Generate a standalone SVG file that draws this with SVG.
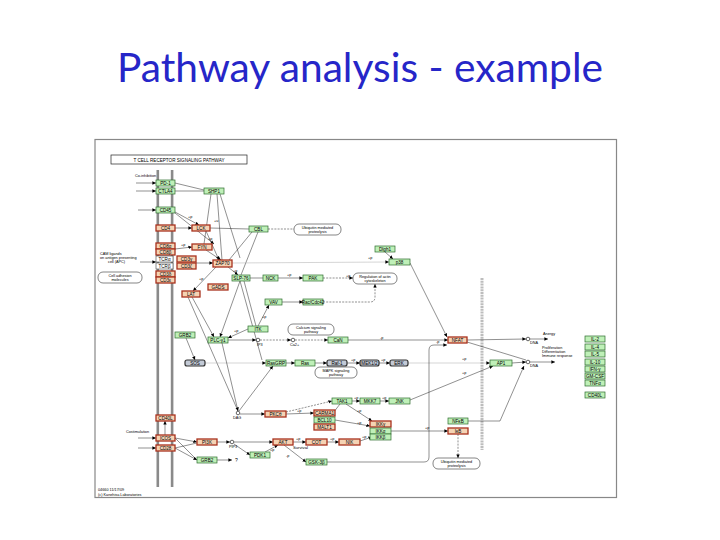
<svg xmlns="http://www.w3.org/2000/svg" width="720" height="540" viewBox="0 0 720 540">
<style>
.t{font-family:"Liberation Sans",Arial,sans-serif;font-size:4.6px;fill:#000;text-anchor:middle}
.s{font-family:"Liberation Sans",Arial,sans-serif;font-size:3.8px;fill:#000}
.g rect{fill:#bff0b8;stroke:#2d6b2d;stroke-width:0.7}
.r rect{fill:#f5d3b4;stroke:#a8321e;stroke-width:1.3}
.b rect{fill:#c3cad6;stroke:#333;stroke-width:1.2}
.w rect{fill:#fff;stroke:#444;stroke-width:0.6}
.box{fill:#fff;stroke:#333;stroke-width:0.6}
.c{fill:#fff;stroke:#000;stroke-width:0.6}
#edges path,#edges line,#edges polyline{fill:none;stroke:#222;stroke-width:0.5}
#edges .d{stroke-dasharray:2 1.2}
#edges .l{stroke:#aaa}
</style>
<defs>
<marker id="a" markerWidth="4" markerHeight="4" refX="3.6" refY="2" orient="auto" markerUnits="userSpaceOnUse"><path d="M0,0.3 L3.6,2 L0,3.7z" fill="#000"/></marker>
</defs>
<rect width="720" height="540" fill="#fff"/>
<text x="360" y="82" font-family="Lato,'Open Sans',sans-serif" font-size="40" fill="#2626c8" text-anchor="middle" textLength="486" lengthAdjust="spacingAndGlyphs">Pathway analysis - example</text>
<rect x="95" y="139.5" width="521.5" height="358" fill="none" stroke="#888" stroke-width="1.2"/>
<g id="title"><rect x="111" y="155" width="136" height="9" fill="#fff" stroke="#222" stroke-width="0.7"/><text x="179" y="161.5" class="t" font-size="5.2">T CELL RECEPTOR SIGNALING PATHWAY</text></g>
<g id="membrane" fill="#8a8a8a"><rect x="156.5" y="170" width="2.6" height="317"/><rect x="170.8" y="170" width="2.6" height="317"/></g>
<line id="nucmem" x1="482" y1="278" x2="482" y2="450" stroke="#bdbdbd" stroke-width="3" stroke-dasharray="2 0.8"/>
<g id="edges">
<line x1="136" y1="183" x2="156" y2="183" marker-end="url(#a)"/>
<line x1="136" y1="191" x2="156" y2="191" marker-end="url(#a)"/>
<line x1="138" y1="210" x2="156" y2="210" marker-end="url(#a)"/>
<line x1="175" y1="183" x2="204" y2="190"/>
<line x1="175" y1="191" x2="204" y2="191"/>
<line x1="211" y1="194" x2="204" y2="244"/>
<line x1="217" y1="194" x2="222" y2="260"/>
<line x1="220" y1="194" x2="240" y2="258"/>
<line x1="175" y1="212" x2="199" y2="225" marker-end="url(#a)"/>
<line x1="175" y1="213" x2="214" y2="244" marker-end="url(#a)"/>
<line x1="175" y1="228" x2="192" y2="228" marker-end="url(#a)"/>
<line x1="210" y1="228" x2="249" y2="229"/>
<line x1="206" y1="231" x2="219" y2="260" marker-end="url(#a)"/>
<line x1="175" y1="249" x2="192" y2="247" marker-end="url(#a)"/>
<line x1="206" y1="250" x2="221" y2="260" marker-end="url(#a)"/>
<line x1="252" y1="232" x2="229" y2="260"/>
<line x1="258" y1="232" x2="241" y2="275"/>
<line x1="268" y1="229" x2="294" y2="229" class="d"/>
<line x1="140" y1="262" x2="156" y2="262" marker-end="url(#a)"/>
<line x1="196" y1="263" x2="213" y2="263" marker-end="url(#a)"/>
<line x1="232" y1="263" x2="389" y2="262" class="l" marker-end="url(#a)"/>
<line x1="385" y1="252" x2="393" y2="259" marker-end="url(#a)"/>
<line x1="410" y1="263" x2="447" y2="337" marker-end="url(#a)"/>
<line x1="228" y1="267" x2="238" y2="275" marker-end="url(#a)"/>
<line x1="216" y1="267" x2="193" y2="291" marker-end="url(#a)"/>
<line x1="250" y1="278" x2="263" y2="278"/>
<line x1="278" y1="278" x2="303" y2="278" marker-end="url(#a)"/>
<line x1="323" y1="278" x2="353" y2="278" class="d" marker-end="url(#a)"/>
<line x1="244" y1="281" x2="256" y2="326"/>
<line x1="240" y1="281" x2="220" y2="337" marker-end="url(#a)"/>
<line x1="240" y1="281" x2="262" y2="360"/>
<line x1="258" y1="326" x2="269" y2="305" marker-end="url(#a)"/>
<line x1="282" y1="302" x2="303" y2="302" marker-end="url(#a)"/>
<path d="M323,302 H370 Q375,302 375,297 V284" class="d" marker-end="url(#a)"/>
<line x1="248" y1="329" x2="228" y2="338" marker-end="url(#a)"/>
<line x1="192" y1="297" x2="214" y2="337" marker-end="url(#a)"/>
<line x1="188" y1="297" x2="238" y2="411"/>
<line x1="186" y1="338" x2="195" y2="360" marker-end="url(#a)"/>
<line x1="228" y1="340" x2="256" y2="340" marker-end="url(#a)"/>
<line x1="260" y1="340" x2="291" y2="340" class="d" marker-end="url(#a)"/>
<line x1="295" y1="340" x2="328" y2="340" class="d" marker-end="url(#a)"/>
<line x1="348" y1="340" x2="448" y2="340" marker-end="url(#a)"/>
<line x1="467" y1="340" x2="526" y2="339" marker-end="url(#a)"/>
<line x1="467" y1="342" x2="526" y2="360"/>
<line x1="530" y1="339" x2="548" y2="339" marker-end="url(#a)"/>
<line x1="530" y1="362" x2="555" y2="362" marker-end="url(#a)"/>
<line x1="205" y1="363" x2="266" y2="363" class="l" marker-end="url(#a)"/>
<line x1="286" y1="363" x2="295" y2="363" marker-end="url(#a)"/>
<line x1="315" y1="363" x2="327" y2="363" marker-end="url(#a)"/>
<line x1="347" y1="363" x2="360" y2="363" marker-end="url(#a)"/>
<line x1="379" y1="363" x2="390" y2="363" marker-end="url(#a)"/>
<line x1="408" y1="363" x2="490" y2="363" class="l" marker-end="url(#a)"/>
<line x1="410" y1="400" x2="493" y2="366" marker-end="url(#a)"/>
<line x1="512" y1="363" x2="526" y2="362" marker-end="url(#a)"/>
<line x1="222" y1="343" x2="238" y2="411" marker-end="url(#a)"/>
<line x1="239" y1="411" x2="273" y2="366" marker-end="url(#a)"/>
<line x1="240" y1="414" x2="265" y2="414" marker-end="url(#a)"/>
<line x1="286" y1="414" x2="314" y2="413" marker-end="url(#a)"/>
<line x1="286" y1="412" x2="332" y2="401" class="d" marker-end="url(#a)"/>
<line x1="335" y1="420" x2="370" y2="426" marker-end="url(#a)"/>
<line x1="330" y1="417" x2="340" y2="404"/>
<line x1="346" y1="404" x2="372" y2="421" marker-end="url(#a)"/>
<line x1="352" y1="401" x2="360" y2="401" marker-end="url(#a)"/>
<line x1="380" y1="401" x2="389" y2="401" marker-end="url(#a)"/>
<line x1="165" y1="435" x2="165" y2="421" marker-end="url(#a)"/>
<line x1="138" y1="438" x2="156" y2="438" marker-end="url(#a)"/>
<line x1="138" y1="448" x2="156" y2="448" marker-end="url(#a)"/>
<line x1="175" y1="438" x2="197" y2="442" marker-end="url(#a)"/>
<line x1="175" y1="448" x2="197" y2="443"/>
<line x1="175" y1="438" x2="197" y2="460"/>
<line x1="175" y1="448" x2="197" y2="460" marker-end="url(#a)"/>
<line x1="217" y1="442" x2="230" y2="442" marker-end="url(#a)"/>
<line x1="234" y1="442" x2="273" y2="442" marker-end="url(#a)"/>
<line x1="234" y1="444" x2="250" y2="455" marker-end="url(#a)"/>
<line x1="265" y1="452" x2="278" y2="445" marker-end="url(#a)"/>
<line x1="293" y1="442" x2="306" y2="442" marker-end="url(#a)"/>
<line x1="327" y1="442" x2="339" y2="442" marker-end="url(#a)"/>
<line x1="360" y1="441" x2="372" y2="437" marker-end="url(#a)"/>
<line x1="284" y1="445" x2="306" y2="462" marker-end="url(#a)"/>
<line x1="217" y1="460" x2="232" y2="460" marker-end="url(#a)"/>
<line x1="391" y1="431" x2="448" y2="431" marker-end="url(#a)"/>
<line x1="458" y1="434" x2="458" y2="458" class="d" marker-end="url(#a)"/>
<polyline points="468,421 500,421 524,366" marker-end="url(#a)"/>
<path d="M327,462 H424 Q429,462 429,457 V350 Q429,345 434,345 H447" stroke="#999" marker-end="url(#a)"/>
</g>
<g id="plabels" class="s">
<text x="188" y="218">+p</text><text x="208" y="240">+p</text><text x="214" y="222">+u</text><text x="181" y="246">+p</text>
<text x="233" y="272">+p</text><text x="199" y="280">+p</text><text x="368" y="259">+p</text><text x="287" y="276">+p</text>
<text x="346" y="277">+p</text><text x="262" y="318">+p</text><text x="234" y="332">+p</text><text x="380" y="339">-p</text>
<text x="351" y="361">+p</text><text x="381" y="361">+p</text><text x="462" y="360">+p</text><text x="462" y="374">+p</text>
<text x="354" y="399">+p</text><text x="382" y="399">+p</text><text x="297" y="412">+p</text><text x="357" y="412">+p</text>
<text x="357" y="424">+p</text><text x="296" y="440">+p</text><text x="330" y="440">+p</text><text x="362" y="438">+p</text>
<text x="270" y="451">+p</text><text x="286" y="457">-p</text><text x="436" y="343">-p</text><text x="425" y="429">+p</text>
<text x="293" y="449" font-size="4.2">Survival</text><text x="235" y="462" font-size="5">?</text>
<text x="135" y="177">Co-inhibition</text>
<text x="126" y="433">Costimulation</text>
<text x="100" y="255">CAM ligands</text><text x="100" y="259">on antigen presenting</text><text x="108" y="263">cell (APC)</text>
<text x="257" y="346">IP3</text><text x="290" y="346">Ca2+</text><text x="233" y="419">DAG</text><text x="229" y="448">PIP3</text>
<text x="530" y="344">DNA</text><text x="530" y="367">DNA</text>
<text x="543" y="335">Anergy</text>
<text x="542" y="349">Proliferation</text><text x="542" y="353">Differentiation</text><text x="542" y="357">Immune response</text>
<text x="98" y="491">04660 11/17/09</text><text x="98" y="496">(c) Kanehisa Laboratories</text>
</g>
<g id="compounds">
<circle cx="258" cy="340" r="1.8" class="c"/><circle cx="293" cy="340" r="1.8" class="c"/><circle cx="238" cy="413" r="1.8" class="c"/>
<circle cx="232" cy="442" r="1.8" class="c"/><circle cx="528" cy="339" r="1.8" class="c"/><circle cx="528" cy="362" r="1.8" class="c"/>
</g>
<g id="maps" class="s" text-anchor="middle">
<g id="m_ubq1"><rect x="294" y="224" width="47" height="11" rx="5" class="box"/><text x="317.5" y="229" text-anchor="middle">Ubiquitin mediated</text><text x="317.5" y="233" text-anchor="middle">proteolysis</text></g>
<g id="m_cam"><rect x="98" y="272" width="44" height="11" rx="5" class="box"/><text x="120" y="277" text-anchor="middle">Cell adhesion</text><text x="120" y="281" text-anchor="middle">molecules</text></g>
<g id="m_actin"><rect x="353" y="273" width="44" height="11" rx="5" class="box"/><text x="375" y="278" text-anchor="middle">Regulation of actin</text><text x="375" y="282" text-anchor="middle">cytoskeleton</text></g>
<g id="m_ca"><rect x="288" y="324" width="46" height="11" rx="5" class="box"/><text x="311" y="329" text-anchor="middle">Calcium signaling</text><text x="311" y="333" text-anchor="middle">pathway</text></g>
<g id="m_mapk"><rect x="315" y="367" width="42" height="11" rx="5" class="box"/><text x="336" y="372" text-anchor="middle">MAPK signaling</text><text x="336" y="376" text-anchor="middle">pathway</text></g>
<g id="m_ubq2"><rect x="433" y="458" width="47" height="11" rx="5" class="box"/><text x="456.5" y="463" text-anchor="middle">Ubiquitin mediated</text><text x="456.5" y="467" text-anchor="middle">proteolysis</text></g>
</g>
<g id="nodes">
<g id="PD1" class="g"><rect x="156" y="180" width="19" height="6"/><text x="165.5" y="184.6" class="t">PD-1</text></g>
<g id="CTLA4" class="g"><rect x="156" y="188" width="19" height="6"/><text x="165.5" y="192.6" class="t">CTLA4</text></g>
<g id="CD45" class="g"><rect x="156" y="207" width="19" height="6"/><text x="165.5" y="211.6" class="t">CD45</text></g>
<g id="SHP1" class="g"><rect x="204" y="188" width="20" height="6"/><text x="214" y="192.6" class="t">SHP1</text></g>
<g id="CD4" class="r"><rect x="156" y="225" width="19" height="6"/><text x="165.5" y="229.6" class="t">CD4</text></g>
<g id="LCK" class="r"><rect x="192" y="225" width="18" height="6"/><text x="201" y="229.6" class="t">LCK</text></g>
<g id="CBL" class="g"><rect x="249" y="226" width="19" height="6"/><text x="258.5" y="230.6" class="t">CBL</text></g>
<g id="CD8a" class="r"><rect x="156" y="243" width="19" height="6"/><text x="165.5" y="247.6" class="t">CD8α</text></g>
<g id="CD8b" class="r"><rect x="156" y="249" width="19" height="6"/><text x="165.5" y="253.6" class="t">CD8β</text></g>
<g id="FYN" class="r"><rect x="192" y="244" width="20" height="6"/><text x="202" y="248.6" class="t">FYN</text></g>
<g id="TCRa" class="w"><rect x="156" y="256" width="17" height="6"/><text x="164.5" y="260.6" class="t">TCRα</text></g>
<g id="TCRb" class="w"><rect x="156" y="263" width="17" height="6"/><text x="164.5" y="267.6" class="t">TCRβ</text></g>
<g id="CD3g" class="r"><rect x="177" y="256" width="19" height="6"/><text x="186.5" y="260.6" class="t">CD3γ</text></g>
<g id="CD3z" class="r"><rect x="177" y="263" width="19" height="6"/><text x="186.5" y="267.6" class="t">CD3ζ</text></g>
<g id="CD3d" class="r"><rect x="156" y="271" width="19" height="6"/><text x="165.5" y="275.6" class="t">CD3δ</text></g>
<g id="CD3e" class="r"><rect x="156" y="277" width="19" height="6"/><text x="165.5" y="281.6" class="t">CD3ε</text></g>
<g id="ZAP70" class="r"><rect x="213" y="260" width="19" height="7"/><text x="222.5" y="265.1" class="t">ZAP70</text></g>
<g id="Dlgh1" class="g"><rect x="375" y="246" width="20" height="6"/><text x="385" y="250.6" class="t">Dlgh1</text></g>
<g id="p38" class="g"><rect x="389" y="259" width="21" height="6"/><text x="399.5" y="263.6" class="t">p38</text></g>
<g id="SLP76" class="g"><rect x="232" y="275" width="18" height="6"/><text x="241" y="279.6" class="t">SLP-76</text></g>
<g id="NCK" class="g"><rect x="263" y="275" width="15" height="6"/><text x="270.5" y="279.6" class="t">NCK</text></g>
<g id="PAK" class="g"><rect x="303" y="275" width="20" height="6"/><text x="313" y="279.6" class="t">PAK</text></g>
<g id="GADS" class="r"><rect x="208" y="284" width="20" height="6"/><text x="218" y="288.6" class="t">GADS</text></g>
<g id="LAT" class="r"><rect x="182" y="291" width="18" height="6"/><text x="191" y="295.6" class="t">LAT</text></g>
<g id="VAV" class="g"><rect x="265" y="299" width="17" height="6"/><text x="273.5" y="303.6" class="t">VAV</text></g>
<g id="Rac" class="g"><rect x="303" y="299" width="20" height="6"/><text x="313" y="303.6" class="t" font-size="4">Rac/Cdc42</text></g>
<g id="ITK" class="g"><rect x="248" y="326" width="20" height="6"/><text x="258" y="330.6" class="t">ITK</text></g>
<g id="GRB2a" class="g"><rect x="175" y="332" width="20" height="6"/><text x="185" y="336.6" class="t">GRB2</text></g>
<g id="PLCg1" class="g"><rect x="208" y="337" width="20" height="6"/><text x="218" y="341.6" class="t">PLC-γ1</text></g>
<g id="CaN" class="g"><rect x="328" y="337" width="20" height="6"/><text x="338" y="341.6" class="t">CaN</text></g>
<g id="NFAT" class="r"><rect x="448" y="337" width="19" height="6"/><text x="457.5" y="341.6" class="t">NFAT</text></g>
<g id="SOS" class="b"><rect x="185" y="360" width="20" height="6" rx="2"/><text x="195" y="364.6" class="t">SOS</text></g>
<g id="RasGRP" class="g"><rect x="266" y="360" width="20" height="6"/><text x="276" y="364.6" class="t">RasGRP</text></g>
<g id="Ras" class="g"><rect x="295" y="360" width="20" height="6"/><text x="305" y="364.6" class="t">Ras</text></g>
<g id="Raf" class="b"><rect x="327" y="360" width="20" height="6" rx="2"/><text x="337" y="364.6" class="t">Raf-1</text></g>
<g id="MEK" class="b"><rect x="360" y="360" width="19" height="6" rx="2"/><text x="369.5" y="364.6" class="t">MEK1/2</text></g>
<g id="ERK" class="b"><rect x="390" y="360" width="18" height="6" rx="2"/><text x="399" y="364.6" class="t">ERK</text></g>
<g id="AP1" class="g"><rect x="490" y="360" width="22" height="6"/><text x="501" y="364.6" class="t">AP1</text></g>
<g id="TAK1" class="g"><rect x="332" y="398" width="20" height="6"/><text x="342" y="402.6" class="t">TAK1</text></g>
<g id="MKK7" class="g"><rect x="360" y="398" width="20" height="6"/><text x="370" y="402.6" class="t">MKK7</text></g>
<g id="JNK" class="g"><rect x="389" y="398" width="21" height="6"/><text x="399.5" y="402.6" class="t">JNK</text></g>
<g id="PKCt" class="r"><rect x="265" y="411" width="21" height="6"/><text x="275.5" y="415.6" class="t">PKCθ</text></g>
<g id="CARMA1" class="r"><rect x="314" y="410" width="21" height="6"/><text x="324.5" y="414.6" class="t">CARMA1</text></g>
<g id="BCL10" class="g"><rect x="314" y="417" width="21" height="6"/><text x="324.5" y="421.6" class="t">BCL10</text></g>
<g id="MALT1" class="r"><rect x="314" y="424" width="21" height="6"/><text x="324.5" y="428.6" class="t">MALT1</text></g>
<g id="IKKg" class="r"><rect x="370" y="421" width="21" height="6"/><text x="380.5" y="425.6" class="t">IKKγ</text></g>
<g id="IKKa" class="g"><rect x="370" y="428" width="21" height="6"/><text x="380.5" y="432.6" class="t">IKKα</text></g>
<g id="IKKb" class="g"><rect x="370" y="434" width="21" height="6"/><text x="380.5" y="438.6" class="t">IKKβ</text></g>
<g id="NFkB" class="g"><rect x="448" y="418" width="20" height="6"/><text x="458" y="422.6" class="t">NFκB</text></g>
<g id="IkB" class="r"><rect x="448" y="428" width="20" height="6"/><text x="458" y="432.6" class="t">IκB</text></g>
<g id="CD40L" class="r"><rect x="156" y="415" width="19" height="6"/><text x="165.5" y="419.6" class="t">CD40L</text></g>
<g id="ICOS" class="r"><rect x="156" y="435" width="19" height="6"/><text x="165.5" y="439.6" class="t">ICOS</text></g>
<g id="CD28" class="r"><rect x="156" y="445" width="19" height="6"/><text x="165.5" y="449.6" class="t">CD28</text></g>
<g id="PI3K" class="r"><rect x="197" y="439" width="20" height="6"/><text x="207" y="443.6" class="t">PI3K</text></g>
<g id="GRB2b" class="g"><rect x="197" y="457" width="20" height="6"/><text x="207" y="461.6" class="t">GRB2</text></g>
<g id="PDK1" class="g"><rect x="250" y="452" width="20" height="6"/><text x="260" y="456.6" class="t">PDK1</text></g>
<g id="AKT" class="r"><rect x="273" y="439" width="20" height="6"/><text x="283" y="443.6" class="t">AKT</text></g>
<g id="COT" class="r"><rect x="306" y="439" width="21" height="6"/><text x="316.5" y="443.6" class="t">COT</text></g>
<g id="NIK" class="r"><rect x="339" y="439" width="21" height="6"/><text x="349.5" y="443.6" class="t">NIK</text></g>
<g id="GSK3b" class="g"><rect x="306" y="459" width="21" height="6"/><text x="316.5" y="463.6" class="t">GSK-3β</text></g>
<g id="IL2" class="g"><rect x="585" y="336" width="20" height="6"/><text x="595" y="340.6" class="t">IL-2</text></g>
<g id="IL4" class="g"><rect x="585" y="344" width="20" height="6"/><text x="595" y="348.6" class="t">IL-4</text></g>
<g id="IL5" class="g"><rect x="585" y="351" width="20" height="6"/><text x="595" y="355.6" class="t">IL-5</text></g>
<g id="IL10" class="g"><rect x="585" y="359" width="20" height="6"/><text x="595" y="363.6" class="t">IL-10</text></g>
<g id="IFNg" class="g"><rect x="585" y="366" width="20" height="6"/><text x="595" y="370.6" class="t">IFN-γ</text></g>
<g id="GMCSF" class="g"><rect x="585" y="373" width="20" height="6"/><text x="595" y="377.6" class="t">GM-CSF</text></g>
<g id="TNFa" class="g"><rect x="585" y="380" width="20" height="6"/><text x="595" y="384.6" class="t">TNFα</text></g>
<g id="CD40Lb" class="g"><rect x="585" y="392" width="20" height="6"/><text x="595" y="396.6" class="t">CD40L</text></g>
</g>
</svg>
